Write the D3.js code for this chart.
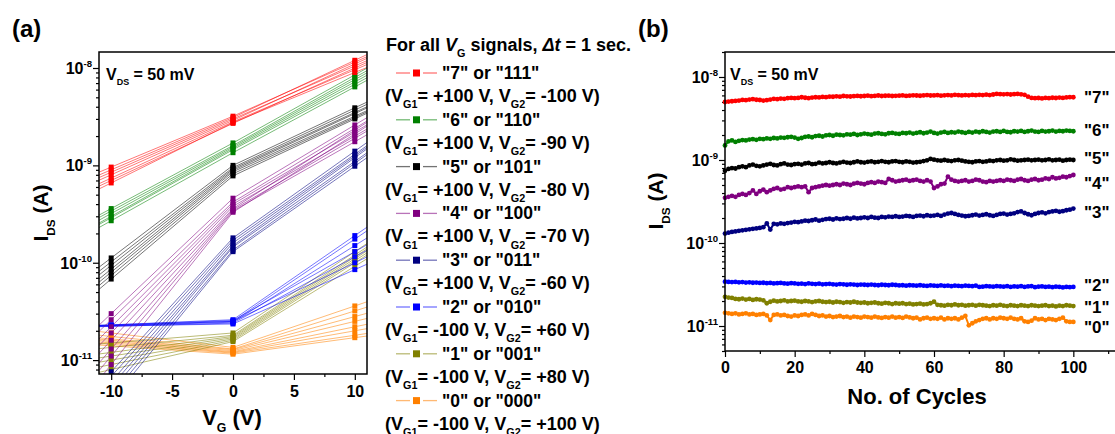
<!DOCTYPE html>
<html>
<head>
<meta charset="utf-8">
<script src="https://cdn.jsdelivr.net/npm/d3@7"></script>
<style>
  body { margin: 0; background: #fff; }
  svg { display: block; font-family: "Liberation Sans", Arial, sans-serif; font-weight: bold; }
</style>
</head>
<body>
<svg id="chart" width="1115" height="434"></svg>
<script>
// ---- panel (a): transfer curves, I_DS at V_G = -10, 0, 10 V (several sweeps per state)
const vgPoints = [-10, 0, 10];
const curves7 = [[9.6e-10, 3.2e-9, 1.15e-8], [9.0e-10, 3.1e-9, 1.2e-8], [8.5e-10, 3.0e-9, 1.05e-8],
  [8.0e-10, 2.9e-9, 1.1e-8], [7.4e-10, 2.8e-9, 9.6e-9], [7.0e-10, 2.7e-9, 1.0e-8], [6.6e-10, 2.75e-9, 9.0e-9]];
const curves6 = [[3.6e-10, 1.7e-9, 8.5e-9], [3.4e-10, 1.6e-9, 8.0e-9], [3.2e-10, 1.55e-9, 7.6e-9],
  [3.0e-10, 1.5e-9, 7.2e-9], [2.9e-10, 1.45e-9, 6.8e-9], [2.7e-10, 1.35e-9, 6.4e-9]];
const curves5 = [[1.12e-10, 1.0e-9, 3.9e-9], [1.02e-10, 9.5e-10, 3.7e-9], [9.4e-11, 9.2e-10, 3.5e-9],
  [8.6e-11, 8.9e-10, 3.4e-9], [8.0e-11, 8.6e-10, 3.2e-9], [7.4e-11, 8.2e-10, 3.1e-9], [6.8e-11, 7.8e-10, 3.0e-9]];
const curves4 = [[3.0e-11, 4.6e-10, 2.6e-9], [2.6e-11, 4.2e-10, 2.4e-9], [2.2e-11, 4.0e-10, 2.2e-9],
  [1.9e-11, 3.8e-10, 2.0e-9], [1.6e-11, 3.6e-10, 2.3e-9], [1.3e-11, 3.5e-10, 1.9e-9],
  [1.1e-11, 3.4e-10, 1.75e-9], [9.0e-12, 3.3e-10, 2.1e-9]];
const curves3 = [[7.6e-12, 1.8e-10, 1.4e-9], [6.8e-12, 1.7e-10, 1.3e-9], [6.0e-12, 1.6e-10, 1.25e-9],
  [5.4e-12, 1.5e-10, 1.2e-9], [4.8e-12, 1.45e-10, 1.1e-9], [4.3e-12, 1.35e-10, 1.05e-9], [3.8e-12, 1.3e-10, 9.8e-10]];
const curves2 = [[2.3e-11, 2.6e-11, 1.9e-10], [2.28e-11, 2.5e-11, 1.75e-10], [2.25e-11, 2.45e-11, 1.5e-10],
  [2.3e-11, 2.55e-11, 1.3e-10], [2.22e-11, 2.4e-11, 1.15e-10], [2.26e-11, 2.5e-11, 1.0e-10], [2.24e-11, 2.35e-11, 8.5e-11]];
const curves1 = [[1.5e-11, 1.9e-11, 1.3e-10], [1.35e-11, 1.8e-11, 1.2e-10], [1.2e-11, 1.75e-11, 1.15e-10],
  [1.1e-11, 1.7e-11, 1.1e-10], [1.0e-11, 1.65e-11, 1.05e-10], [9.0e-12, 1.6e-11, 1.0e-10], [8.0e-12, 1.55e-11, 9.2e-11]];
const curves0 = [[1.9e-11, 1.35e-11, 3.6e-11], [1.75e-11, 1.3e-11, 3.2e-11], [1.65e-11, 1.28e-11, 2.8e-11],
  [1.6e-11, 1.25e-11, 2.5e-11], [1.55e-11, 1.22e-11, 2.2e-11], [1.5e-11, 1.2e-11, 2.0e-11],
  [1.45e-11, 1.18e-11, 1.8e-11], [1.4e-11, 1.15e-11, 1.7e-11]];

const stateNames = ["7", "6", "5", "4", "3", "2", "1", "0"];
const stateColors = ["#ff0000", "#008000", "#000000", "#800080", "#000080", "#0000ff", "#808000", "#ff8000"];
const stateCodes = ['"7" or "111"', '"6" or "110"', '"5" or "101"', '"4" or "100"',
  '"3" or "011"', '"2" or "010"', '"1" or "001"', '"0" or "000"'];
const vg1Labels = ["+100", "+100", "+100", "+100", "+100", "-100", "-100", "-100"];
const vg2Labels = ["-100", "-90", "-80", "-70", "-60", "+60", "+80", "+100"];

// ---- panel (b): retention over 100 cycles (mantissas, times the unit below)
const cycles = d3.range(0, 101);
const retention7 = [5.00, 5.05, 5.10, 5.15, 5.20, 5.30, 5.25, 5.35, 5.40, 5.32,
  5.28, 5.20, 5.25, 5.35, 5.45, 5.40, 5.50, 5.45, 5.55, 5.60,
  5.55, 5.60, 5.70, 5.62, 5.55, 5.65, 5.70, 5.68, 5.75, 5.72,
  5.80, 5.78, 5.85, 5.80, 5.90, 5.85, 5.82, 5.88, 5.92, 5.86,
  5.90, 5.95, 5.88, 5.92, 5.98, 5.90, 5.94, 5.96, 5.90, 5.93,
  5.95, 6.00, 5.92, 5.96, 6.02, 5.98, 5.94, 6.00, 6.05, 5.98,
  6.00, 6.04, 5.96, 6.02, 6.06, 6.00, 6.10, 6.04, 6.00, 6.06,
  6.02, 6.08, 6.04, 6.10, 6.06, 6.12, 6.05, 6.15, 6.25, 6.20,
  6.18, 6.22, 6.15, 6.20, 6.25, 6.18, 6.10, 5.80, 5.60, 5.55,
  5.58, 5.52, 5.60, 5.56, 5.62, 5.58, 5.65, 5.60, 5.68, 5.72, 5.70];
const retention6 = [1.50, 1.68, 1.72, 1.65, 1.70, 1.74, 1.72, 1.76, 1.78, 1.75,
  1.80, 1.78, 1.82, 1.80, 1.84, 1.82, 1.86, 1.85, 1.88, 1.90,
  1.86, 1.80, 1.84, 1.90, 1.92, 1.88, 1.94, 1.96, 1.92, 1.98,
  2.00, 1.96, 2.02, 2.00, 1.98, 2.04, 2.02, 2.06, 2.00, 2.04,
  2.08, 2.05, 2.02, 2.08, 2.10, 2.06, 2.04, 2.10, 2.12, 2.08,
  2.06, 2.12, 2.10, 2.14, 2.08, 2.12, 2.16, 2.10, 2.14, 2.20,
  2.12, 2.08, 2.14, 2.18, 2.12, 2.16, 2.14, 2.20, 2.16, 2.12,
  2.18, 2.14, 2.20, 2.16, 2.22, 2.18, 2.14, 2.20, 2.22, 2.18,
  2.24, 2.18, 2.16, 2.22, 2.20, 2.24, 2.18, 2.22, 2.26, 2.20,
  2.18, 2.24, 2.20, 2.22, 2.26, 2.20, 2.24, 2.22, 2.26, 2.24, 2.22];
const retention5 = [7.4, 7.8, 8.0, 7.9, 8.2, 8.4, 8.2, 8.6, 8.8, 8.5,
  8.4, 8.6, 8.8, 9.0, 8.7, 8.6, 8.9, 9.1, 8.8, 8.7,
  8.9, 9.0, 8.8, 9.1, 9.2, 8.9, 9.0, 9.3, 9.1, 9.2,
  9.4, 9.2, 9.1, 9.3, 9.5, 9.3, 9.2, 9.4, 9.6, 9.4,
  9.3, 9.5, 9.6, 9.4, 9.5, 9.7, 9.5, 9.4, 9.6, 9.7,
  9.5, 9.4, 9.6, 9.5, 9.3, 9.4, 9.5, 9.7, 9.9, 10.3,
  10.1, 9.9, 9.8, 10.0, 9.8, 9.7, 9.9, 10.0, 9.8, 9.6,
  9.5, 9.4, 9.6, 9.7, 9.5, 9.6, 9.8, 9.7, 9.9, 10.0,
  9.8, 9.9, 10.2, 10.0, 9.8, 9.9, 10.0, 10.1, 9.9, 10.0,
  10.1, 9.9, 10.0, 10.2, 9.9, 10.0, 10.1, 9.8, 10.0, 10.1, 10.0];
const retention4 = [3.5, 3.6, 3.7, 3.6, 3.8, 3.9, 3.8, 4.0, 4.3, 3.9,
  4.2, 4.4, 4.1, 4.3, 4.5, 4.6, 4.4, 4.5, 4.7, 4.6,
  4.7, 4.8, 4.7, 4.8, 4.1, 4.6, 4.7, 4.8, 4.9, 5.0,
  4.9, 5.0, 5.1, 5.0, 5.2, 5.1, 5.0, 5.2, 5.3, 5.2,
  5.1, 5.3, 5.4, 5.3, 5.5, 5.4, 5.3, 5.9, 5.7, 5.5,
  5.6, 5.7, 5.8, 5.6, 5.7, 5.8, 5.6, 5.5, 5.7, 5.5,
  4.6, 4.8, 5.1, 5.2, 6.3, 5.8, 5.6, 5.5, 5.6, 5.7,
  5.5, 5.6, 5.8, 5.7, 5.5, 5.4, 5.6, 5.5, 5.6, 5.7,
  5.6, 5.8, 5.7, 5.6, 5.8, 5.9, 5.7, 5.6, 5.8, 5.9,
  5.7, 5.8, 6.0, 5.9, 6.2, 6.0, 6.1, 6.3, 6.2, 6.4, 6.6];
const retention3 = [1.30, 1.33, 1.36, 1.38, 1.40, 1.42, 1.44, 1.46, 1.48, 1.50,
  1.52, 1.55, 1.72, 1.45, 1.70, 1.68, 1.72, 1.70, 1.74, 1.76,
  1.80, 1.78, 1.82, 1.86, 1.84, 1.88, 1.92, 1.86, 1.90, 1.94,
  1.96, 1.92, 1.98, 1.94, 1.96, 2.00, 1.96, 2.02, 1.98, 2.00,
  2.04, 2.00, 2.06, 2.02, 2.00, 2.06, 2.04, 2.08, 2.06, 2.10,
  2.06, 2.08, 2.12, 2.10, 2.06, 2.12, 2.14, 2.10, 2.16, 2.12,
  2.14, 2.18, 2.12, 2.20, 2.26, 2.30, 2.24, 2.18, 2.14, 2.10,
  2.12, 2.16, 2.20, 2.14, 2.18, 2.22, 2.16, 2.12, 2.18, 2.24,
  2.26, 2.20, 2.24, 2.28, 2.36, 2.40, 2.30, 2.22, 2.16, 2.24,
  2.30, 2.34, 2.28, 2.36, 2.40, 2.44, 2.38, 2.42, 2.48, 2.52, 2.60];
const retention2 = [3.42, 3.40, 3.38, 3.40, 3.36, 3.38, 3.34, 3.36, 3.32, 3.34,
  3.30, 3.32, 3.28, 3.30, 3.26, 3.28, 3.30, 3.26, 3.24, 3.28,
  3.26, 3.22, 3.24, 3.20, 3.26, 3.22, 3.20, 3.24, 3.18, 3.20,
  3.22, 3.18, 3.16, 3.20, 3.18, 3.14, 3.18, 3.16, 3.12, 3.16,
  3.14, 3.12, 3.16, 3.12, 3.10, 3.14, 3.12, 3.10, 3.14, 3.12,
  3.08, 3.10, 3.06, 3.10, 3.08, 3.06, 3.10, 3.06, 3.04, 3.08,
  3.06, 3.04, 3.08, 3.04, 3.06, 3.02, 3.06, 3.04, 3.02, 3.06,
  3.04, 3.02, 3.06, 2.96, 2.98, 3.02, 3.00, 2.98, 3.02, 3.00,
  2.98, 3.02, 2.96, 3.00, 2.98, 3.02, 2.96, 3.00, 3.02, 2.94,
  2.98, 3.00, 2.96, 2.98, 2.94, 2.98, 2.96, 2.92, 2.96, 2.94, 2.96];
const retention1 = [2.25, 2.20, 2.18, 2.12, 2.10, 2.14, 2.08, 2.12, 2.06, 2.10,
  2.08, 2.04, 1.88, 1.96, 2.02, 1.98, 2.00, 2.04, 1.98, 2.00,
  2.02, 1.98, 1.96, 2.00, 1.98, 1.94, 1.98, 2.00, 1.96, 1.94,
  1.96, 1.92, 1.96, 1.94, 1.90, 1.94, 1.92, 1.96, 1.92, 1.90,
  1.92, 1.88, 1.90, 1.92, 1.88, 1.86, 1.90, 1.88, 1.84, 1.88,
  1.86, 1.88, 1.84, 1.86, 1.82, 1.84, 1.86, 1.82, 1.84, 1.88,
  1.96, 1.80, 1.78, 1.76, 1.80, 1.78, 1.82, 1.78, 1.80, 1.76,
  1.78, 1.80, 1.76, 1.80, 1.78, 1.76, 1.74, 1.78, 1.76, 1.80,
  1.76, 1.74, 1.78, 1.76, 1.74, 1.78, 1.76, 1.74, 1.78, 1.76,
  1.74, 1.76, 1.78, 1.74, 1.76, 1.72, 1.76, 1.74, 1.78, 1.76, 1.74];
const retention0 = [1.44, 1.42, 1.40, 1.42, 1.38, 1.40, 1.42, 1.38, 1.40, 1.36,
  1.38, 1.40, 1.34, 1.18, 1.36, 1.38, 1.34, 1.36, 1.32, 1.30,
  1.34, 1.32, 1.36, 1.38, 1.34, 1.40, 1.36, 1.32, 1.34, 1.30,
  1.32, 1.28, 1.30, 1.32, 1.28, 1.30, 1.26, 1.30, 1.28, 1.26,
  1.30, 1.28, 1.26, 1.30, 1.27, 1.25, 1.28, 1.26, 1.30, 1.26,
  1.28, 1.25, 1.30, 1.27, 1.24, 1.26, 1.20, 1.24, 1.26, 1.22,
  1.24, 1.22, 1.26, 1.20, 1.24, 1.22, 1.24, 1.20, 1.26, 1.32,
  1.02, 1.08, 1.14, 1.18, 1.22, 1.24, 1.20, 1.24, 1.22, 1.26,
  1.24, 1.22, 1.26, 1.22, 1.20, 1.24, 1.14, 1.12, 1.16, 1.24,
  1.20, 1.22, 1.18, 1.22, 1.20, 1.18, 1.22, 1.26, 1.14, 1.12, 1.12];
const retentionUnits = [1e-9, 1e-9, 1e-10, 1e-10, 1e-10, 1e-11, 1e-11, 1e-11];
const labelNudge = [0, -1, -2, 8, 3, -2, 1, 5];

const transferSets = [curves7, curves6, curves5, curves4, curves3, curves2, curves1, curves0];
const retentionSets = [retention7, retention6, retention5, retention4, retention3, retention2, retention1, retention0];

const svg = d3.select("#chart");

// text with _{sub}, ^{sup} and *italic* pieces
function richText(sel, str, size, subScale) {
  const parts = str.split(/(_\{[^}]*\}|\^\{[^}]*\}|\*[^*]*\*)/).filter(s => s.length);
  let base = 0;
  parts.forEach(p => {
    const t = sel.append("tspan");
    let off = 0, txt = p;
    if (p[0] === "_") { txt = p.slice(2, -1); off = size * 0.34; t.attr("font-size", size * (subScale || 0.56)); }
    else if (p[0] === "^") { txt = p.slice(2, -1); off = -size * 0.45; t.attr("font-size", size * 0.6); }
    else if (p[0] === "*") { txt = p.slice(1, -1); t.attr("font-style", "italic"); }
    t.attr("dy", off - base).text(txt);
    base = off;
  });
  return sel;
}

function logAxis(g, y, x0) {
  const all = y.ticks();
  const major = all.filter(v => Math.abs(Math.log10(v) - Math.round(Math.log10(v))) < 1e-6);
  const minor = all.filter(v => !major.includes(v));
  g.append("g").attr("transform", `translate(${x0},0)`)
    .call(d3.axisLeft(y).tickValues(minor).tickSize(3).tickFormat(""));
  g.append("g").attr("transform", `translate(${x0},0)`)
    .call(d3.axisLeft(y).tickValues(major).tickSize(6).tickFormat(""));
  g.selectAll(".domain").remove();
  g.selectAll(".tick line").attr("stroke-width", 1.2);
  major.forEach(v => {
    const t = g.append("text").attr("x", x0 - 7).attr("y", y(v) + 6)
      .attr("text-anchor", "end").attr("font-size", 16);
    richText(t, "10^{" + Math.round(Math.log10(v)) + "}", 16);
  });
}

function styleTickText(sel) {
  sel.selectAll("text").attr("font-size", 16).attr("fill", "#000")
    .attr("font-family", "Liberation Sans, Arial, sans-serif").attr("font-weight", "bold");
}

// ================= panel (a)
const xA = d3.scaleLinear().domain([-11, 11]).range([99, 367]);
const yA = d3.scaleLog().domain([7.2e-12, 1.46e-8]).range([374, 52]);

svg.append("defs").append("clipPath").attr("id", "clipA")
  .append("rect").attr("x", 99).attr("y", 52).attr("width", 268).attr("height", 322);

svg.append("text").attr("x", 12).attr("y", 37).attr("font-size", 24).text("(a)");

const axA = svg.append("g");
logAxis(axA, yA, 99);
axA.append("g").attr("transform", "translate(0,374)")
  .call(d3.axisBottom(xA).tickValues([-7.5, -2.5, 2.5, 7.5]).tickSize(3).tickFormat(""));
axA.append("g").attr("transform", "translate(0,374)")
  .call(d3.axisBottom(xA).tickValues([-10, -5, 0, 5, 10]).tickSize(6).tickPadding(6).tickFormat(d => String(d)))
  .call(styleTickText);
axA.selectAll(".domain").remove();
axA.selectAll(".tick line").attr("stroke-width", 1.2);

// extend the end segments of a polyline to the plot edges (pixel space)
function toEdges(pts, xl, xr) {
  const [a, b] = pts, [c, d] = pts.slice(-2);
  const s0 = (b[1] - a[1]) / (b[0] - a[0]);
  const s1 = (d[1] - c[1]) / (d[0] - c[0]);
  return [[xl, a[1] + s0 * (xl - a[0])], ...pts, [xr, d[1] + s1 * (xr - d[0])]];
}

const plotA = svg.append("g").attr("clip-path", "url(#clipA)");
const order = [7, 6, 5, 4, 3, 2, 1, 0];
order.forEach(si => {
  transferSets[si].forEach(trace => {
    const pts = trace.map((v, i) => [xA(vgPoints[i]), yA(v)]);
    plotA.append("path").attr("d", d3.line()(toEdges(pts, 99, 367)))
      .attr("fill", "none").attr("stroke", stateColors[si])
      .attr("stroke-width", 0.9).attr("stroke-opacity", 0.6);
  });
});
order.forEach(si => {
  transferSets[si].forEach(trace => {
    plotA.selectAll(null).data(trace).enter().append("rect")
      .attr("x", (v, i) => xA(vgPoints[i]) - 2.5).attr("y", v => yA(v) - 2.5)
      .attr("width", 5).attr("height", 5).attr("fill", stateColors[si]);
  });
});

svg.append("rect").attr("x", 99).attr("y", 52).attr("width", 268).attr("height", 322)
  .attr("fill", "none").attr("stroke", "#000").attr("stroke-width", 1.5);

richText(svg.append("text").attr("x", 106).attr("y", 80).attr("font-size", 16), "V_{DS} = 50 mV", 16);
richText(svg.append("text").attr("x", 232).attr("y", 425).attr("font-size", 22)
  .attr("text-anchor", "middle"), "V_{G} (V)", 22);
richText(svg.append("text").attr("transform", "translate(48,213) rotate(-90)")
  .attr("font-size", 21).attr("text-anchor", "middle"), "I_{DS} (A)", 21);

// legend
const leg = svg.append("g");
richText(leg.append("text").attr("x", 386).attr("y", 51).attr("font-size", 18),
  "For all *V*_{G} signals, *Δt* = 1 sec.", 18, 0.6);
stateNames.forEach((name, i) => {
  const cy = 73 + i * 46.8;
  leg.append("line").attr("x1", 396).attr("x2", 410).attr("y1", cy).attr("y2", cy)
    .attr("stroke", stateColors[i]).attr("stroke-opacity", 0.55).attr("stroke-width", 1.3);
  leg.append("line").attr("x1", 423).attr("x2", 437).attr("y1", cy).attr("y2", cy)
    .attr("stroke", stateColors[i]).attr("stroke-opacity", 0.55).attr("stroke-width", 1.3);
  leg.append("rect").attr("x", 413).attr("y", cy - 3.5).attr("width", 7).attr("height", 7)
    .attr("fill", stateColors[i]);
  leg.append("text").attr("x", 442).attr("y", cy + 6).attr("font-size", 17.5).text(stateCodes[i]);
  richText(leg.append("text").attr("x", 385).attr("y", cy + 29).attr("font-size", 18),
    "(V_{G1}= " + vg1Labels[i] + " V, V_{G2}= " + vg2Labels[i] + " V)", 18, 0.6);
});

// ================= panel (b)
const xB = d3.scaleLinear().domain([0, 120]).range([725, 1143]);
const yB = d3.scaleLog().domain([5e-12, 2e-8]).range([351, 52]);

svg.append("text").attr("x", 638).attr("y", 37).attr("font-size", 24).text("(b)");

const axB = svg.append("g");
logAxis(axB, yB, 725);
axB.append("g").attr("transform", "translate(0,351)")
  .call(d3.axisBottom(xB).tickValues([10, 30, 50, 70, 90, 110]).tickSize(3).tickFormat(""));
axB.append("g").attr("transform", "translate(0,351)")
  .call(d3.axisBottom(xB).tickValues([0, 20, 40, 60, 80, 100]).tickSize(6).tickPadding(5).tickFormat(d => String(d)))
  .call(styleTickText);
axB.selectAll(".domain").remove();
axB.selectAll(".tick line").attr("stroke-width", 1.2);

const plotB = svg.append("g");
retentionSets.forEach((series, si) => {
  const vals = series.map(v => v * retentionUnits[si]);
  plotB.append("path")
    .attr("d", d3.line().x((v, i) => xB(cycles[i])).y(v => yB(v))(vals))
    .attr("fill", "none").attr("stroke", stateColors[si]).attr("stroke-width", 2);
  plotB.selectAll(null).data(vals).enter().append("circle")
    .attr("cx", (v, i) => xB(cycles[i])).attr("cy", v => yB(v)).attr("r", 2.4)
    .attr("fill", stateColors[si]);
  plotB.append("text").attr("x", 1084).attr("y", yB(vals[vals.length - 1]) + labelNudge[si] + 6)
    .attr("font-size", 17).text('"' + stateNames[si] + '"');
});

svg.append("rect").attr("x", 725).attr("y", 52).attr("width", 418).attr("height", 299)
  .attr("fill", "none").attr("stroke", "#000").attr("stroke-width", 1.5);

richText(svg.append("text").attr("x", 730).attr("y", 80).attr("font-size", 16), "V_{DS} = 50 mV", 16);
svg.append("text").attr("x", 917).attr("y", 404).attr("font-size", 22)
  .attr("text-anchor", "middle").text("No. of Cycles");
richText(svg.append("text").attr("transform", "translate(663,201) rotate(-90)")
  .attr("font-size", 21).attr("text-anchor", "middle"), "I_{DS} (A)", 21);
</script>
</body>
</html>
